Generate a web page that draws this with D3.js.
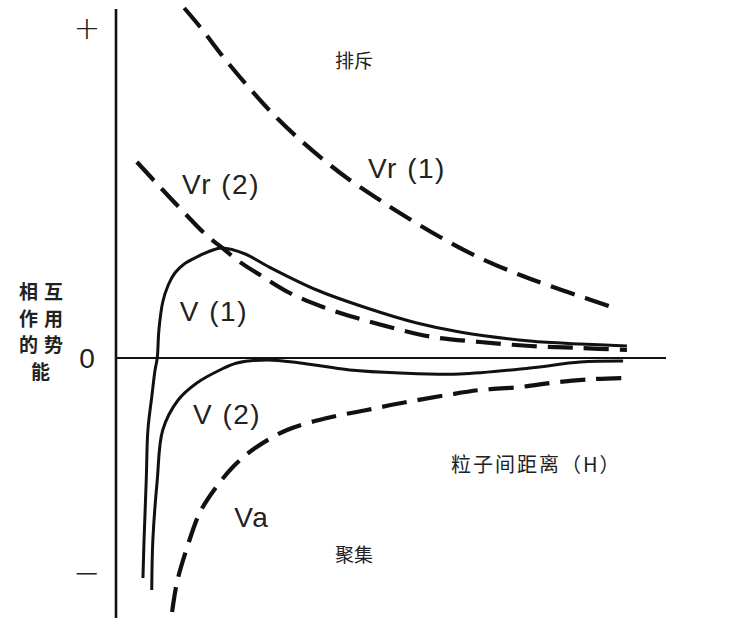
<!DOCTYPE html>
<html>
<head>
<meta charset="utf-8">
<script src="https://cdn.jsdelivr.net/npm/d3@7"></script>
<style>
    body {margin: 0; background: #fff;}
    svg {display: block;}
    .curve {fill: none; stroke: #111;}
    .solid {stroke-width: 3;}
    .dashed {stroke-width: 4.2; stroke-dasharray: 25 11;}
    .curveLabel {font-family: "Liberation Sans Narrow", "Liberation Sans", sans-serif; font-size: 28px; fill: #222; letter-spacing: 1.5px;}
    .cjk {font-family: "Noto Sans CJK SC", sans-serif; fill: #222;}
</style>
</head>
<body>
<svg id="chart" width="740" height="629"></svg>
<script>
// distance H (arbitrary units) vs interaction energy V (arbitrary units)
const vr1 = [[1.24,3.50],[1.53,3.31],[1.98,2.99],[2.44,2.69],[2.89,2.42],[3.35,2.18],[3.80,1.97],
    [4.25,1.78],[4.71,1.61],[5.16,1.45],[5.89,1.21],[6.62,1.00],[7.35,0.83],[7.89,0.72],[8.53,0.60],[9.07,0.50]];
const vr2 = [[0.38,1.96],[0.80,1.71],[1.16,1.50],[1.62,1.24],[1.98,1.08],[2.25,0.96],[2.62,0.83],[3.16,0.65],
    [3.76,0.51],[4.38,0.40],[5.04,0.30],[5.76,0.21],[6.62,0.16],[7.53,0.12],[8.44,0.10],[9.29,0.08]];
const v1 = [[0.49,-2.20],[0.51,-1.82],[0.55,-1.22],[0.58,-0.72],[0.65,-0.39],[0.71,-0.12],[0.75,0],[0.78,0.28],
    [0.85,0.56],[0.95,0.73],[1.07,0.85],[1.24,0.94],[1.47,1.01],[1.71,1.07],[1.93,1.10],[2.35,1.04],[2.75,0.92],
    [3.65,0.68],[4.56,0.50],[5.47,0.35],[6.25,0.26],[7.53,0.17],[8.44,0.14],[9.29,0.12]];
const v2 = [[0.65,-2.32],[0.67,-1.82],[0.75,-1.22],[0.85,-0.72],[1.13,-0.42],[1.47,-0.25],[1.89,-0.12],[2.20,-0.05],
    [2.75,-0.02],[3.35,-0.05],[4.25,-0.12],[5.16,-0.15],[6.25,-0.16],[7.53,-0.10],[8.44,-0.04],[9.22,-0.03]];
const va = [[1.02,-2.54],[1.11,-2.24],[1.29,-1.90],[1.53,-1.54],[1.85,-1.27],[2.16,-1.07],[2.53,-0.90],[3.11,-0.72],
    [3.84,-0.60],[4.56,-0.52],[5.29,-0.44],[6.02,-0.37],[6.62,-0.32],[7.35,-0.29],[8.04,-0.24],[8.71,-0.21],[9.22,-0.20]];

const curves = [
    {name: 'Vr (1)', data: vr1, dashed: true, label: [4.58, 1.8]},
    {name: 'Vr (2)', data: vr2, dashed: true, label: [1.2, 1.64]},
    {name: 'V (1)', data: v1, dashed: false, label: [1.16, 0.37]},
    {name: 'V (2)', data: v2, dashed: false, label: [1.4, -0.66]},
    {name: 'Va', data: va, dashed: true, label: [2.15, -1.69]}
];

const yTicks = [3.3, 0, -2.15];
const yTickLabels = ['+', '0', '−'];

const yTitle = ['相互', '作用', '的势', '能'];
const regionLabels = [
    {text: '排斥', h: 3.98, v: 2.9},
    {text: '聚集', h: 3.98, v: -2.04}
];
const xTitle = '粒子间距离（H）';

const svg = d3.select('#chart');
const xScale = d3.scaleLinear().domain([0, 10]).range([116, 666]);
const yScale = d3.scaleLinear().domain([-2.6, 3.49]).range([618, 9]);

// axes
svg.append('line')
    .attr('x1', xScale(0)).attr('x2', xScale(0))
    .attr('y1', yScale.range()[0]).attr('y2', yScale.range()[1])
    .attr('stroke', '#111').attr('stroke-width', 2.6);
svg.append('line')
    .attr('x1', xScale(0)).attr('x2', xScale(10))
    .attr('y1', yScale(0)).attr('y2', yScale(0))
    .attr('stroke', '#111').attr('stroke-width', 1.8);

svg.selectAll('text.tick')
    .data(yTicks)
    .join('text')
    .attr('class', 'tick')
    .attr('x', 87)
    .attr('y', d => yScale(d))
    .attr('dy', (d, i) => i === 1 ? '0.36em' : '0.34em')
    .attr('text-anchor', 'middle')
    .attr('font-family', (d, i) => i === 1 ? '"Liberation Sans Narrow", sans-serif' : '"DejaVu Sans", sans-serif')
    .attr('font-size', (d, i) => i === 1 ? 28 : 32)
    .attr('font-weight', 300)
    .attr('fill', '#222')
    .text((d, i) => yTickLabels[i]);

const line = d3.line()
    .x(d => xScale(d[0]))
    .y(d => yScale(d[1]))
    .curve(d3.curveCatmullRom.alpha(0.5));

svg.selectAll('path.curve')
    .data(curves)
    .join('path')
    .attr('class', d => 'curve ' + (d.dashed ? 'dashed' : 'solid'))
    .attr('d', d => line(d.data));

svg.selectAll('text.curveLabel')
    .data(curves)
    .join('text')
    .attr('class', 'curveLabel')
    .attr('x', d => xScale(d.label[0]))
    .attr('y', d => yScale(d.label[1]))
    .text(d => d.name);

// texts
svg.append('text')
    .attr('class', 'cjk')
    .attr('font-size', 19)
    .attr('font-weight', 'bold')
    .attr('letter-spacing', 6)
    .selectAll('tspan')
    .data(yTitle)
    .join('tspan')
    .attr('x', (d, i) => d.length === 1 ? 31 : 19)
    .attr('y', (d, i) => 299 + i * 26.7)
    .text(d => d);

svg.selectAll('text.region')
    .data(regionLabels)
    .join('text')
    .attr('class', 'region cjk')
    .attr('x', d => xScale(d.h))
    .attr('y', d => yScale(d.v))
    .attr('font-size', 19)
    .text(d => d.text);

svg.append('text')
    .attr('class', 'cjk')
    .attr('x', 451)
    .attr('y', 472)
    .attr('font-size', 20)
    .attr('letter-spacing', 2)
    .text(xTitle);
</script>
</body>
</html>
